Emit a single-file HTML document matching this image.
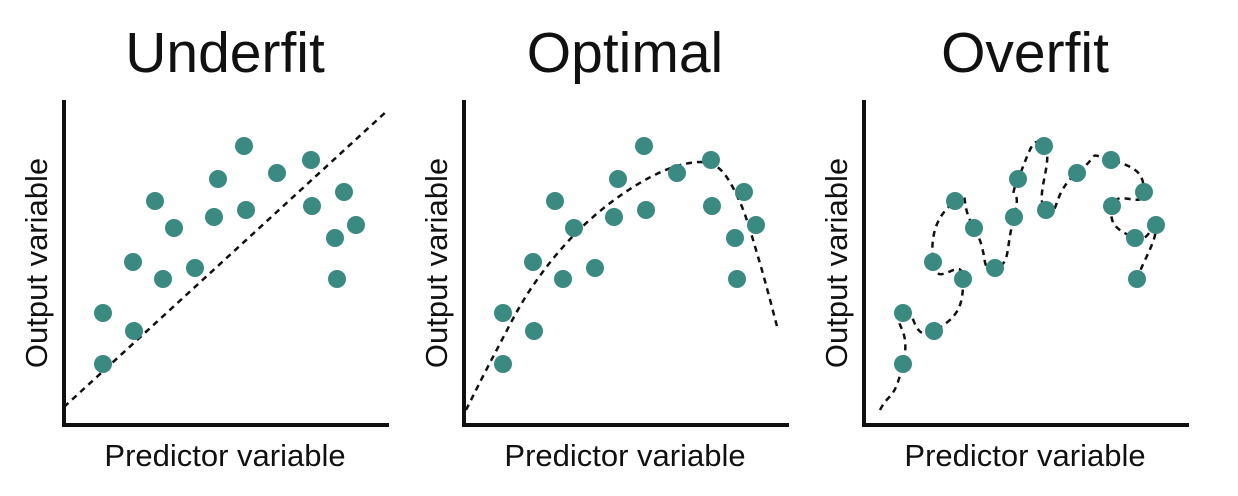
<!DOCTYPE html>
<html><head><meta charset="utf-8"><style>
html,body{margin:0;padding:0;background:#fff;}
svg{display:block;font-family:"Liberation Sans",sans-serif;}
</style></head><body>
<svg id="c" width="1238" height="496" viewBox="0 0 1238 496"></svg>
<script>
// point data (x: units right of y-axis, y: units above x-axis)
const ptX = [39,39,69,70,91,99,110,131,150,154,180,182,213,247,248,271,273,280,292];
const ptY = [112,61,163,94,224,146,197,157,208,246,279,215,252,265,219,187,146,233,200];
const panelTitles = ["Underfit","Optimal","Overfit"];
const panelOffsets = [0,400,800];
const underfitLine = [[0,18],[324,315]];
const optimalCurve = [[2,15],[30,70],[66,135],[110,190],[160,232],[210,258],[250,260],[275,225],[295,165],[314,95]];
const overfitOrder = [-1,1,0,3,5,2,4,6,7,8,9,10,11,12,13,17,14,15,18,16];
const overfitStart = [16,15];

const svg=document.getElementById('c');
const NS='http://www.w3.org/2000/svg';
function mk(t,a){const e=document.createElementNS(NS,t);for(const k in a)e.setAttribute(k,a[k]);return e;}
const ox=64, oy=425;
function sx(p,v){return ox+panelOffsets[p]+v;}
function sy(v){return oy-v;}
function catmull(pts,k){
  let d=`M${pts[0][0]},${pts[0][1]}`;
  for(let i=0;i<pts.length-1;i++){
    const p0=pts[i-1]||pts[i],p1=pts[i],p2=pts[i+1],p3=pts[i+2]||p2;
    const c1=[p1[0]+(p2[0]-p0[0])*k,p1[1]+(p2[1]-p0[1])*k];
    const c2=[p2[0]-(p3[0]-p1[0])*k,p2[1]-(p3[1]-p1[1])*k];
    d+=` C${c1[0]},${c1[1]} ${c2[0]},${c2[1]} ${p2[0]},${p2[1]}`;
  }
  return d;
}
panelTitles.forEach((title,p)=>{
  const g=mk('g',{});
  
  
  svg.appendChild(g);
  const t=mk('text',{x:sx(p,161),y:72,'text-anchor':'middle','font-size':57,fill:'#111'});
  t.textContent=title;
  
  
  g.appendChild(t);
  const ax=mk('path',{d:`M${sx(p,0)},${sy(325)} V${oy} H${sx(p,325)}`,stroke:'#111','stroke-width':4,fill:'none'});
  
  
  g.appendChild(ax);
  const xl=mk('text',{x:sx(p,161),y:466,'text-anchor':'middle','font-size':31,fill:'#111'});
  xl.textContent='Predictor variable';
  
  
  g.appendChild(xl);
  const yl=mk('text',{x:0,y:0,'text-anchor':'middle','font-size':31,fill:'#111',transform:`translate(${sx(p,-17)},263) rotate(-90)`});
  yl.textContent='Output variable';
  
  
  g.appendChild(yl);
  let d;
  if(p===0){d=`M${sx(p,underfitLine[0][0])},${sy(underfitLine[0][1])} L${sx(p,underfitLine[1][0])},${sy(underfitLine[1][1])}`;}
  else if(p===1){d=catmull(optimalCurve.map(q=>[sx(p,q[0]),sy(q[1])]),1/6);}
  else{d=catmull(overfitOrder.map(i=>i<0?[sx(p,overfitStart[0]),sy(overfitStart[1])]:[sx(p,ptX[i]),sy(ptY[i])]),0.4);}
  const fl=mk('path',{d,stroke:'#111','stroke-width':2.5,fill:'none','stroke-dasharray':'6,5'});
  
  
  g.appendChild(fl);
  ptX.forEach((x,i)=>{
    const c=mk('circle',{cx:sx(p,x),cy:sy(ptY[i]),r:9,fill:'#3a8a82'});
    
    
    g.appendChild(c);
  });
});
</script>
</body></html>
